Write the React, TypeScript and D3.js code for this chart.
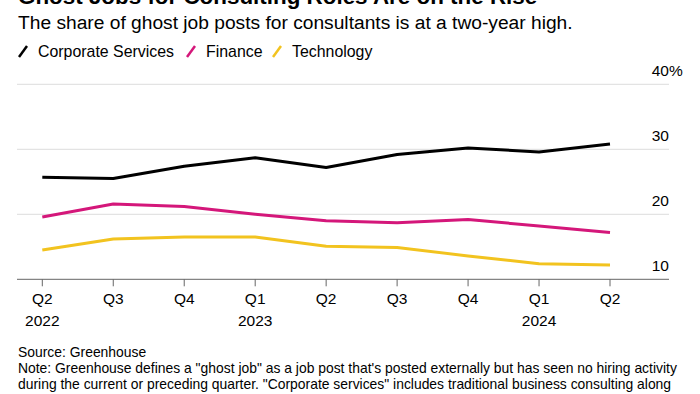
import React from "react";
import * as d3 from "d3";

const quarters = ["Q2", "Q3", "Q4", "Q1", "Q2", "Q3", "Q4", "Q1", "Q2"];
const years = ["2022", "", "", "2023", "", "", "", "2024", ""];
const corporate = [25.7, 25.5, 27.4, 28.7, 27.2, 29.2, 30.2, 29.6, 30.8];
const finance = [19.6, 21.6, 21.2, 20.0, 19.0, 18.7, 19.2, 18.2, 17.2];
const technology = [14.5, 16.2, 16.5, 16.5, 15.1, 14.9, 13.6, 12.4, 12.2];
const yTicks = [10, 20, 30, 40];
const seriesNames = ["Corporate Services", "Finance", "Technology"];
const seriesColors = ["#000000", "#d4177a", "#f2c31f"];

const W = 700;
const H = 394;
const FONT = "'Liberation Sans', Arial, Helvetica, sans-serif";

export default function App() {
  const x = d3.scaleLinear().domain([0, quarters.length - 1]).range([42.3, 610]);
  const y = d3.scaleLinear().domain([10, 40]).range([279.3, 84.3]);
  const line = d3
    .line<number>()
    .x((_, i) => x(i))
    .y((d) => y(d));
  const series = [corporate, finance, technology];
  const legendX = [19, 187, 273];

  return (
    <div style={{ position: "absolute", left: 0, top: 0, width: W, height: H, overflow: "hidden" }}>
      <svg width={W} height={H} style={{ display: "block", fontFamily: FONT }}>
        <rect width={W} height={H} fill="#fff" />
        <text x={18} y={4} fontSize={22.4} fontWeight="bold" fill="#000">
          Ghost Jobs for Consulting Roles Are on the Rise
        </text>
        <text x={18} y={29} fontSize={19.2} fill="#000">
          The share of ghost job posts for consultants is at a two-year high.
        </text>
        {seriesNames.map((n, i) => (
          <g key={n}>
            <line
              x1={legendX[i]}
              y1={57}
              x2={legendX[i] + 8}
              y2={46}
              stroke={seriesColors[i]}
              strokeWidth={2.5}
            />
            <text x={legendX[i] + 19} y={57} fontSize={15.9} fill="#000">
              {n}
            </text>
          </g>
        ))}
        {yTicks.map((t) => (
          <g key={t}>
            {t !== 10 && (
              <line x1={17} x2={669} y1={y(t)} y2={y(t)} stroke="#dcdcdc" strokeWidth={1} />
            )}
            <text x={669} y={y(t) - 8} fontSize={15.5} textAnchor="end" fill="#000">
              {t}
            </text>
            {t === 40 && (
              <text x={669} y={y(t) - 8} fontSize={15.5} fill="#000">
                %
              </text>
            )}
          </g>
        ))}
        {series.map((s, i) => (
          <path
            key={i}
            d={line(s) || ""}
            fill="none"
            stroke={seriesColors[i]}
            strokeWidth={3}
            strokeLinejoin="round"
          />
        ))}
        <line x1={17} x2={669} y1={y(10)} y2={y(10)} stroke="#666" strokeWidth={1} />
        {quarters.map((q, i) => (
          <g key={i} transform={`translate(${x(i)},0)`}>
            <line y1={y(10)} y2={y(10) + 7} stroke="#666" strokeWidth={1} />
            <text y={304} fontSize={15.5} textAnchor="middle" fill="#000">
              {q}
            </text>
            {years[i] && (
              <text y={326} fontSize={15.5} textAnchor="middle" fill="#000">
                {years[i]}
              </text>
            )}
          </g>
        ))}
        <text x={18} y={357} fontSize={13.9} fill="#000">
          Source: Greenhouse
        </text>
        <text x={18} y={373} fontSize={13.9} fill="#000">
          Note: Greenhouse defines a "ghost job" as a job post that's posted externally but has seen no hiring activity
        </text>
        <text x={18} y={389} fontSize={13.9} fill="#000">
          during the current or preceding quarter. "Corporate services" includes traditional business consulting along
        </text>
      </svg>
    </div>
  );
}
